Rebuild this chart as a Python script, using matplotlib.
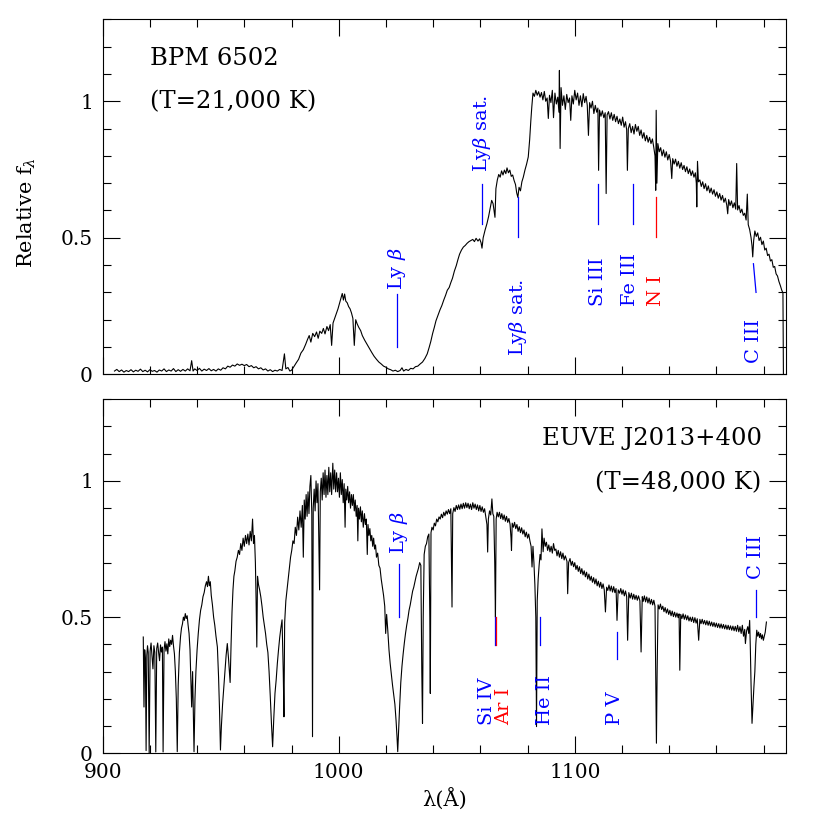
import numpy as np
import matplotlib
matplotlib.use('Agg')
import matplotlib.pyplot as plt
from matplotlib.ticker import MultipleLocator

# BPM 6502 (T=21,000 K): (wavelength in Angstrom, relative flux)
bpm_pts = [
    (905, 0.012), (906, 0.018), (907, 0.010), (908, 0.016), (909, 0.008), (910, 0.014),
    (911, 0.010), (912, 0.017), (913, 0.009), (914, 0.015), (915, 0.011), (916, 0.019),
    (917, 0.010), (918, 0.015), (919, 0.009), (920, 0.017), (921, 0.011), (922, 0.014),
    (923, 0.008), (924, 0.016), (925, 0.012), (926, 0.020), (927, 0.010), (928, 0.016),
    (929, 0.012), (930, 0.021), (931, 0.010), (932, 0.017), (933, 0.011), (934, 0.018),
    (935, 0.012), (936, 0.020), (937, 0.013), (937.7, 0.050), (938.3, 0.012), (939, 0.020),
    (940, 0.014), (941, 0.022), (942, 0.012), (943, 0.019), (944, 0.014), (945, 0.021),
    (946, 0.013), (947, 0.018), (948, 0.012), (949, 0.020), (950, 0.015), (951, 0.024),
    (952, 0.020), (953, 0.030), (954, 0.026), (955, 0.034), (956, 0.030), (957, 0.038),
    (958, 0.033), (959, 0.037), (960, 0.032), (961, 0.036), (962, 0.028), (963, 0.032),
    (964, 0.024), (965, 0.028), (966, 0.020), (967, 0.024), (968, 0.016), (969, 0.020),
    (970, 0.012), (971, 0.017), (972, 0.010), (973, 0.015), (974, 0.012), (975, 0.018),
    (976, 0.014), (977, 0.075), (977.6, 0.020), (978.5, 0.025), (979.3, 0.012), (980, 0.015),
    (981, 0.028), (982, 0.042), (983, 0.055), (984, 0.078), (985, 0.090), (986, 0.110),
    (986.8, 0.128), (987.5, 0.142), (988.2, 0.118), (989, 0.150), (989.8, 0.138), (990.6, 0.155),
    (991.3, 0.132), (992, 0.158), (992.8, 0.150), (993.5, 0.168), (994.2, 0.148), (995, 0.175),
    (995.7, 0.160), (996.4, 0.182), (997, 0.106), (997.6, 0.188), (998.3, 0.205), (999, 0.222),
    (999.7, 0.240), (1000.4, 0.262), (1001, 0.280), (1001.5, 0.296), (1002, 0.272), (1002.5, 0.294),
    (1003, 0.268), (1003.6, 0.262), (1004.2, 0.248), (1004.8, 0.240), (1005.4, 0.225), (1006, 0.205),
    (1006.6, 0.106), (1007.2, 0.200), (1007.8, 0.185), (1008.5, 0.172), (1009.3, 0.160), (1010, 0.142),
    (1011, 0.125), (1012, 0.110), (1013, 0.095), (1014, 0.080), (1015, 0.066), (1016, 0.055),
    (1017, 0.045), (1018, 0.038), (1019, 0.030), (1020, 0.026), (1021, 0.020), (1022, 0.017),
    (1023, 0.012), (1024, 0.015), (1025, 0.010), (1026, 0.014), (1026.8, 0.024), (1027.5, 0.012),
    (1028.5, 0.018), (1029.5, 0.014), (1030.5, 0.022), (1031.5, 0.020), (1032.5, 0.028), (1033.5, 0.030),
    (1034.5, 0.038), (1035.5, 0.045), (1036.5, 0.058), (1037.5, 0.075), (1038.3, 0.098), (1039, 0.120),
    (1039.8, 0.150), (1040.5, 0.172), (1041.2, 0.196), (1042, 0.215), (1042.9, 0.236), (1043.7, 0.252),
    (1044.5, 0.272), (1045.3, 0.290), (1046, 0.308), (1046.8, 0.318), (1047.5, 0.336), (1048.2, 0.352),
    (1049, 0.378), (1049.8, 0.398), (1050.5, 0.420), (1051.2, 0.440), (1052, 0.455), (1052.8, 0.466),
    (1053.6, 0.472), (1054.4, 0.480), (1055.2, 0.486), (1056, 0.490), (1056.8, 0.494), (1057.5, 0.486),
    (1058.2, 0.498), (1059, 0.488), (1059.7, 0.496), (1060.3, 0.482), (1060.7, 0.462), (1061.2, 0.500),
    (1062, 0.528), (1062.8, 0.552), (1063.5, 0.578), (1064.2, 0.610), (1064.8, 0.637), (1065.4, 0.625),
    (1066.2, 0.575), (1066.6, 0.680), (1067.2, 0.712), (1067.8, 0.732), (1068.4, 0.722), (1069, 0.745),
    (1069.6, 0.730), (1070.2, 0.748), (1070.8, 0.735), (1071.3, 0.756), (1071.9, 0.738), (1072.5, 0.748),
    (1073.1, 0.725), (1073.7, 0.730), (1074.3, 0.710), (1074.9, 0.695), (1075.4, 0.665), (1075.9, 0.648),
    (1076.4, 0.685), (1077, 0.672), (1077.6, 0.705), (1078.2, 0.722), (1078.9, 0.748), (1079.6, 0.770),
    (1080.3, 0.796), (1080.9, 0.860), (1081.4, 0.930), (1081.8, 0.979), (1082.3, 1.030), (1082.9, 1.018),
    (1083.5, 1.040), (1084.1, 1.022), (1084.7, 1.035), (1085.3, 1.015), (1085.9, 1.032), (1086.5, 1.005),
    (1087.1, 1.036), (1087.7, 1.000), (1088.3, 1.012), (1088.8, 0.937), (1089.3, 1.022), (1089.9, 0.995),
    (1090.5, 1.040), (1091, 0.940), (1091.6, 1.030), (1092.2, 0.990), (1092.8, 1.015), (1093.3, 0.960),
    (1093.5, 1.113), (1093.8, 0.827), (1094.2, 1.050), (1094.8, 0.985), (1095.4, 1.020), (1096, 0.970),
    (1096.6, 1.025), (1097.2, 0.995), (1097.8, 1.012), (1098.3, 0.930), (1098.8, 1.020), (1099.4, 0.990),
    (1100, 1.040), (1100.6, 1.005), (1101.2, 1.030), (1101.8, 0.985), (1102.4, 1.020), (1103, 0.980),
    (1103.6, 1.028), (1104.2, 0.995), (1104.8, 1.018), (1105.3, 0.985), (1105.8, 0.875), (1106.3, 0.995),
    (1106.9, 0.975), (1107.5, 1.000), (1108.1, 0.955), (1108.7, 0.985), (1109.3, 0.960), (1109.8, 0.975),
    (1110.1, 0.747), (1110.5, 0.968), (1111.1, 0.945), (1111.7, 0.965), (1112.3, 0.940), (1112.9, 0.958),
    (1113.3, 0.662), (1113.7, 0.950), (1114.3, 0.962), (1114.9, 0.935), (1115.5, 0.958), (1116.1, 0.930),
    (1116.7, 0.952), (1117.3, 0.925), (1117.9, 0.945), (1118.5, 0.918), (1119.1, 0.935), (1119.7, 0.912),
    (1120.3, 0.942), (1120.9, 0.905), (1121.5, 0.925), (1122, 0.895), (1122.3, 0.747), (1122.7, 0.900),
    (1123.3, 0.918), (1123.9, 0.885), (1124.5, 0.908), (1125.1, 0.880), (1125.7, 0.915), (1126.3, 0.890),
    (1126.9, 0.908), (1127.5, 0.875), (1128.1, 0.895), (1128.7, 0.865), (1129.3, 0.885), (1129.9, 0.855),
    (1130.5, 0.875), (1131.1, 0.850), (1131.7, 0.868), (1132.3, 0.845), (1132.9, 0.862), (1133.5, 0.830),
    (1134, 0.800), (1134.3, 0.674), (1134.5, 0.967), (1134.8, 0.700), (1135.2, 0.845), (1135.8, 0.815),
    (1136.4, 0.830), (1137, 0.800), (1137.6, 0.822), (1138.2, 0.795), (1138.8, 0.815), (1139.4, 0.785),
    (1140, 0.805), (1140.6, 0.780), (1141.1, 0.717), (1141.5, 0.790), (1142.1, 0.770), (1142.7, 0.788),
    (1143.3, 0.762), (1143.9, 0.780), (1144.5, 0.755), (1145.1, 0.775), (1145.7, 0.750), (1146.3, 0.765),
    (1146.9, 0.742), (1147.5, 0.760), (1148.1, 0.735), (1148.7, 0.752), (1149.3, 0.728), (1149.9, 0.745),
    (1150.5, 0.722), (1151.1, 0.738), (1151.5, 0.700), (1151.7, 0.613), (1152.0, 0.780), (1152.4, 0.705),
    (1153, 0.712), (1153.6, 0.688), (1154.2, 0.705), (1154.8, 0.680), (1155.4, 0.698), (1156, 0.672),
    (1156.6, 0.690), (1157.2, 0.665), (1157.8, 0.682), (1158.4, 0.660), (1159, 0.676), (1159.6, 0.652),
    (1160.2, 0.668), (1160.8, 0.645), (1161.4, 0.662), (1162, 0.638), (1162.6, 0.655), (1163.2, 0.630),
    (1163.8, 0.645), (1164.4, 0.620), (1164.8, 0.588), (1165.2, 0.640), (1165.8, 0.618), (1166.4, 0.635),
    (1167, 0.610), (1167.6, 0.628), (1168.2, 0.605), (1168.6, 0.772), (1169, 0.602), (1169.6, 0.618),
    (1170.2, 0.592), (1170.8, 0.605), (1171.4, 0.582), (1172, 0.590), (1172.6, 0.565), (1173.1, 0.660),
    (1173.5, 0.548), (1174.1, 0.530), (1174.7, 0.500), (1175.1, 0.470), (1175.4, 0.430), (1175.8, 0.490),
    (1176.3, 0.525), (1176.9, 0.505), (1177.5, 0.518), (1178.1, 0.490), (1178.7, 0.502), (1179.3, 0.475),
    (1179.9, 0.488), (1180.5, 0.455), (1181.1, 0.462), (1181.7, 0.435), (1182.3, 0.440), (1182.9, 0.415),
    (1183.5, 0.420), (1184.1, 0.392), (1184.7, 0.395), (1185.3, 0.368), (1185.9, 0.360), (1186.5, 0.340),
    (1187.1, 0.325), (1187.7, 0.308), (1188.2, 0.298), (1188.4, 0.0),
]

# EUVE J2013+400 (T=48,000 K)
euve_pts = [
    (917.2, 0.427), (917.5, 0.170), (917.8, 0.380), (918.1, 0.345), (918.4, 0.010), (918.7, 0.360),
    (919.0, 0.395), (919.3, 0.370), (919.7, 0.000), (920.1, 0.375), (920.5, 0.405), (920.9, 0.360),
    (921.3, 0.310), (921.7, 0.395), (922.1, 0.370), (922.5, 0.005), (922.9, 0.385), (923.3, 0.405),
    (923.7, 0.370), (924.1, 0.340), (924.5, 0.398), (924.9, 0.372), (925.3, 0.390), (925.6, 0.005),
    (926.0, 0.380), (926.4, 0.410), (926.8, 0.375), (927.2, 0.402), (927.6, 0.365), (928.0, 0.420),
    (928.4, 0.392), (928.8, 0.415), (929.2, 0.400), (929.6, 0.433), (930.0, 0.395), (930.4, 0.365),
    (930.8, 0.300), (931.2, 0.200), (931.6, 0.006), (932.0, 0.250), (932.5, 0.370), (933.0, 0.430),
    (933.4, 0.460), (933.8, 0.475), (934.2, 0.500), (934.6, 0.488), (935.0, 0.513), (935.4, 0.495),
    (935.8, 0.505), (936.2, 0.470), (936.6, 0.440), (937.0, 0.380), (937.4, 0.260), (937.7, 0.170),
    (938.1, 0.300), (938.4, 0.150), (938.7, 0.006), (939.1, 0.200), (939.5, 0.300), (940.0, 0.380),
    (940.5, 0.440), (941.0, 0.490), (941.5, 0.525), (942.0, 0.545), (942.5, 0.575), (943.0, 0.590),
    (943.5, 0.615), (944.0, 0.630), (944.4, 0.612), (944.8, 0.650), (945.2, 0.615), (945.6, 0.630),
    (946.0, 0.580), (946.5, 0.545), (947.0, 0.500), (947.5, 0.470), (948.0, 0.430), (948.6, 0.390),
    (949.1, 0.280), (949.5, 0.160), (949.9, 0.012), (950.3, 0.100), (950.8, 0.180), (951.3, 0.240),
    (951.8, 0.300), (952.3, 0.360), (952.8, 0.403), (953.3, 0.350), (953.7, 0.300), (954.0, 0.260),
    (954.4, 0.400), (954.8, 0.520), (955.2, 0.600), (955.6, 0.650), (956.0, 0.670), (956.5, 0.705),
    (957.0, 0.720), (957.5, 0.745), (958.0, 0.730), (958.5, 0.770), (959.0, 0.745), (959.5, 0.790),
    (960.0, 0.760), (960.5, 0.800), (961.0, 0.770), (961.5, 0.805), (962.0, 0.765), (962.5, 0.815),
    (963.0, 0.780), (963.5, 0.860), (963.9, 0.770), (964.3, 0.800), (964.7, 0.700), (965.0, 0.560),
    (965.3, 0.390), (965.6, 0.650), (966.0, 0.620), (966.5, 0.600), (967.0, 0.574), (967.5, 0.540),
    (968.0, 0.500), (968.5, 0.470), (969.0, 0.440), (969.5, 0.400), (970.0, 0.370), (970.5, 0.300),
    (971.0, 0.210), (971.5, 0.110), (972.0, 0.024), (972.5, 0.130), (973.0, 0.220), (973.5, 0.269),
    (974.0, 0.330), (974.5, 0.380), (975.0, 0.425), (975.5, 0.460), (976.0, 0.490), (976.5, 0.300),
    (976.8, 0.134), (977.1, 0.480), (977.6, 0.560), (978.1, 0.600), (978.6, 0.640), (979.1, 0.680),
    (979.6, 0.720), (980.1, 0.745), (980.6, 0.780), (981.1, 0.770), (981.6, 0.830), (982.1, 0.800),
    (982.6, 0.867), (983.1, 0.820), (983.6, 0.890), (984.1, 0.830), (984.6, 0.910), (985.0, 0.720),
    (985.4, 0.930), (985.8, 0.860), (986.2, 0.950), (986.6, 0.870), (987.0, 0.960), (987.4, 0.880),
    (987.8, 0.980), (988.2, 1.020), (988.6, 0.880), (988.9, 0.061), (989.2, 0.900), (989.6, 0.970),
    (990.0, 0.890), (990.4, 1.000), (990.8, 0.920), (991.2, 0.990), (991.6, 0.760), (991.9, 0.600),
    (992.2, 0.960), (992.6, 1.010), (993.0, 0.930), (993.4, 1.030), (993.8, 0.950), (994.2, 1.040),
    (994.6, 0.940), (995.0, 1.020), (995.4, 0.950), (995.8, 1.050), (996.2, 0.960), (996.6, 1.030),
    (997.0, 0.950), (997.5, 1.065), (997.9, 0.970), (998.3, 1.040), (998.7, 0.960), (999.1, 1.030),
    (999.5, 0.960), (999.9, 1.010), (1000.3, 0.940), (1000.7, 1.030), (1001.1, 0.950), (1001.5, 1.005),
    (1001.9, 0.920), (1002.3, 0.990), (1002.7, 0.830), (1003.0, 0.970), (1003.4, 0.930), (1003.8, 0.980),
    (1004.2, 0.920), (1004.6, 0.960), (1005.0, 0.900), (1005.4, 0.950), (1005.8, 0.910), (1006.2, 0.950),
    (1006.6, 0.890), (1007.0, 0.930), (1007.4, 0.870), (1007.8, 0.910), (1008.1, 0.780), (1008.4, 0.900),
    (1008.8, 0.860), (1009.2, 0.905), (1009.6, 0.850), (1010.0, 0.890), (1010.4, 0.830), (1010.9, 0.880),
    (1011.3, 0.840), (1011.7, 0.860), (1012.1, 0.730), (1012.4, 0.840), (1012.8, 0.800), (1013.2, 0.825),
    (1013.6, 0.780), (1014.0, 0.800), (1014.4, 0.760), (1014.8, 0.790), (1015.2, 0.750), (1015.6, 0.765),
    (1016.0, 0.720), (1016.5, 0.735), (1017.0, 0.690), (1017.5, 0.680), (1018.0, 0.640), (1018.5, 0.610),
    (1019.0, 0.580), (1019.5, 0.540), (1019.9, 0.440), (1020.3, 0.510), (1020.8, 0.450), (1021.3, 0.380),
    (1021.8, 0.330), (1022.3, 0.290), (1022.8, 0.250), (1023.3, 0.215), (1023.8, 0.180), (1024.3, 0.120),
    (1024.7, 0.060), (1025.0, 0.006), (1025.4, 0.090), (1025.8, 0.170), (1026.3, 0.260), (1026.8, 0.320),
    (1027.3, 0.365), (1027.8, 0.405), (1028.3, 0.440), (1028.8, 0.470), (1029.3, 0.495), (1029.8, 0.525),
    (1030.3, 0.545), (1030.8, 0.570), (1031.3, 0.595), (1031.8, 0.610), (1032.3, 0.630), (1032.8, 0.650),
    (1033.3, 0.665), (1033.8, 0.680), (1034.3, 0.700), (1034.8, 0.690), (1035.2, 0.300), (1035.5, 0.110),
    (1035.8, 0.500), (1036.2, 0.730), (1036.7, 0.760), (1037.2, 0.770), (1037.7, 0.795), (1038.2, 0.805),
    (1038.6, 0.500), (1038.8, 0.220), (1039.1, 0.810), (1039.5, 0.830), (1040.0, 0.820), (1040.5, 0.845),
    (1041.0, 0.835), (1041.5, 0.860), (1042.0, 0.850), (1042.5, 0.868), (1043.0, 0.860), (1043.5, 0.878),
    (1044.0, 0.865), (1044.5, 0.885), (1045.0, 0.872), (1045.5, 0.890), (1046.0, 0.878), (1046.5, 0.895),
    (1047.0, 0.880), (1047.5, 0.898), (1047.8, 0.700), (1048.0, 0.537), (1048.3, 0.880), (1048.8, 0.902),
    (1049.3, 0.888), (1049.8, 0.910), (1050.3, 0.895), (1050.8, 0.912), (1051.3, 0.896), (1051.8, 0.915),
    (1052.3, 0.898), (1052.8, 0.918), (1053.3, 0.900), (1053.8, 0.920), (1054.3, 0.902), (1054.8, 0.918),
    (1055.3, 0.898), (1055.8, 0.915), (1056.3, 0.895), (1056.8, 0.920), (1057.3, 0.900), (1057.8, 0.915),
    (1058.3, 0.895), (1058.8, 0.912), (1059.3, 0.890), (1059.8, 0.910), (1060.3, 0.888), (1060.8, 0.905),
    (1061.3, 0.885), (1061.8, 0.898), (1062.3, 0.870), (1062.8, 0.840), (1063.1, 0.739), (1063.4, 0.860),
    (1063.9, 0.890), (1064.4, 0.875), (1064.9, 0.934), (1065.3, 0.880), (1065.7, 0.870), (1066.1, 0.700),
    (1066.4, 0.500), (1066.7, 0.860), (1067.1, 0.885), (1067.6, 0.868), (1068.1, 0.885), (1068.6, 0.862),
    (1069.1, 0.880), (1069.6, 0.858), (1070.1, 0.875), (1070.6, 0.852), (1071.1, 0.870), (1071.6, 0.848),
    (1072.1, 0.862), (1072.6, 0.840), (1073.0, 0.790), (1073.2, 0.745), (1073.5, 0.845), (1074.0, 0.830),
    (1074.5, 0.848), (1075.0, 0.825), (1075.5, 0.840), (1076.0, 0.815), (1076.5, 0.832), (1077.0, 0.810),
    (1077.5, 0.828), (1078.0, 0.805), (1078.5, 0.820), (1079.0, 0.795), (1079.5, 0.812), (1080.0, 0.790),
    (1080.5, 0.805), (1081.0, 0.780), (1081.5, 0.760), (1081.9, 0.684), (1082.3, 0.760), (1082.7, 0.700),
    (1083.1, 0.620), (1083.5, 0.500), (1083.8, 0.098), (1084.1, 0.560), (1084.5, 0.640), (1084.9, 0.690),
    (1085.3, 0.730), (1085.7, 0.710), (1086.1, 0.824), (1086.6, 0.740), (1087.0, 0.790), (1087.5, 0.760),
    (1088.0, 0.775), (1088.5, 0.745), (1089.0, 0.765), (1089.5, 0.740), (1090.0, 0.760), (1090.5, 0.735),
    (1091.0, 0.770), (1091.5, 0.745), (1092.0, 0.750), (1092.5, 0.725), (1093.0, 0.745), (1093.5, 0.720),
    (1094.0, 0.740), (1094.5, 0.715), (1095.0, 0.735), (1095.5, 0.710), (1096.0, 0.725), (1096.7, 0.705),
    (1097.0, 0.586), (1097.4, 0.700), (1098.0, 0.715), (1098.5, 0.690), (1099.0, 0.705), (1099.5, 0.685),
    (1100.0, 0.700), (1100.5, 0.675), (1101.0, 0.690), (1101.5, 0.668), (1102.0, 0.685), (1102.5, 0.660),
    (1103.0, 0.678), (1103.5, 0.655), (1104.0, 0.670), (1104.5, 0.648), (1105.0, 0.665), (1105.5, 0.640),
    (1106.0, 0.658), (1106.5, 0.635), (1107.0, 0.650), (1107.5, 0.628), (1108.0, 0.645), (1108.5, 0.622),
    (1109.0, 0.640), (1109.5, 0.615), (1110.0, 0.632), (1110.5, 0.610), (1111.0, 0.628), (1111.5, 0.605),
    (1112.0, 0.622), (1112.5, 0.600), (1113.0, 0.519), (1113.5, 0.610), (1114.0, 0.598), (1114.5, 0.618),
    (1115.0, 0.596), (1115.5, 0.614), (1116.0, 0.592), (1116.5, 0.612), (1117.0, 0.590), (1117.5, 0.605),
    (1117.9, 0.488), (1118.4, 0.600), (1119.0, 0.588), (1119.5, 0.605), (1120.0, 0.584), (1120.5, 0.600),
    (1121.0, 0.578), (1121.5, 0.596), (1122.0, 0.575), (1122.4, 0.415), (1122.9, 0.590), (1123.5, 0.570),
    (1124.0, 0.588), (1124.5, 0.566), (1125.0, 0.584), (1125.5, 0.565), (1126.0, 0.580), (1126.5, 0.562),
    (1127.0, 0.578), (1127.6, 0.560), (1128.1, 0.372), (1128.6, 0.575), (1129.0, 0.558), (1129.5, 0.578),
    (1130.0, 0.556), (1130.5, 0.574), (1131.0, 0.552), (1131.5, 0.570), (1132.0, 0.548), (1132.5, 0.565),
    (1133.0, 0.545), (1133.5, 0.562), (1134.0, 0.540), (1134.3, 0.300), (1134.6, 0.037), (1134.9, 0.300),
    (1135.3, 0.545), (1135.8, 0.530), (1136.3, 0.548), (1136.8, 0.528), (1137.3, 0.540), (1137.8, 0.520),
    (1138.3, 0.535), (1138.8, 0.515), (1139.3, 0.530), (1139.8, 0.510), (1140.3, 0.525), (1140.8, 0.505),
    (1141.3, 0.522), (1141.8, 0.502), (1142.3, 0.518), (1142.8, 0.500), (1143.3, 0.515), (1143.8, 0.498),
    (1144.2, 0.512), (1144.5, 0.305), (1144.9, 0.510), (1145.4, 0.495), (1145.9, 0.512), (1146.4, 0.492),
    (1146.9, 0.508), (1147.4, 0.490), (1147.9, 0.505), (1148.4, 0.486), (1148.9, 0.500), (1149.4, 0.484),
    (1149.9, 0.500), (1150.4, 0.480), (1150.9, 0.498), (1151.4, 0.478), (1151.9, 0.494), (1152.5, 0.415),
    (1153.0, 0.492), (1153.5, 0.476), (1154.0, 0.492), (1154.5, 0.475), (1155.0, 0.488), (1155.5, 0.472),
    (1156.0, 0.487), (1156.5, 0.470), (1157.0, 0.485), (1157.5, 0.468), (1158.0, 0.482), (1158.5, 0.466),
    (1159.0, 0.480), (1159.5, 0.464), (1160.0, 0.478), (1160.5, 0.462), (1161.0, 0.476), (1161.5, 0.460),
    (1162.0, 0.475), (1162.5, 0.459), (1163.0, 0.473), (1163.5, 0.457), (1164.0, 0.471), (1164.5, 0.455),
    (1165.0, 0.470), (1165.5, 0.454), (1166.0, 0.468), (1166.5, 0.452), (1167.0, 0.467), (1167.5, 0.450),
    (1168.0, 0.466), (1168.5, 0.448), (1169.0, 0.470), (1169.5, 0.446), (1170.0, 0.465), (1170.5, 0.440),
    (1171.0, 0.470), (1171.5, 0.430), (1172.0, 0.455), (1172.3, 0.403), (1172.8, 0.450), (1173.3, 0.465),
    (1173.7, 0.440), (1174.1, 0.488), (1174.4, 0.380), (1174.7, 0.250), (1175.1, 0.110), (1175.5, 0.180),
    (1175.9, 0.244), (1176.3, 0.300), (1176.7, 0.400), (1177.1, 0.452), (1177.5, 0.430), (1177.9, 0.445),
    (1178.3, 0.425), (1178.7, 0.440), (1179.1, 0.420), (1179.5, 0.435), (1179.9, 0.415), (1180.3, 0.430),
    (1180.7, 0.445), (1181.2, 0.482),
]

# line identifications (top panel)
top_ids = ["Ly $\\beta$", "Ly$\\beta$ sat.", "Ly$\\beta$ sat.", "Si III", "Fe III", "N I", "C III"]
top_wl_hi = [1024.8, 1060.9, 1075.8, 1109.9, 1124.8, 1134.3, 1175.7]
top_wl_lo = [1024.8, 1060.9, 1075.8, 1109.9, 1124.8, 1134.3, 1176.8]
top_y0 = [0.10, 0.552, 0.503, 0.552, 0.552, 0.503, 0.30]
top_y1 = [0.295, 0.698, 0.650, 0.698, 0.698, 0.650, 0.405]
top_lab_wl = [1024.8, 1060.7, 1075.8, 1110.0, 1123.5, 1134.3, 1175.9]
top_lab_y = [0.31, 0.74, 0.35, 0.43, 0.445, 0.363, 0.204]
top_lab_above = [True, True, False, False, False, False, False]
top_col = ["blue", "blue", "blue", "blue", "blue", "red", "blue"]

# line identifications (bottom panel)
bot_ids = ["Ly $\\beta$", "Si IV", "Ar I", "He II", "P V", "C III"]
bot_wl = [1025.7, 1066.2, 1066.5, 1085.2, 1117.9, 1176.9]
bot_y0 = [0.50, 0.397, 0.397, 0.397, 0.348, 0.50]
bot_y1 = [0.696, 0.50, 0.50, 0.50, 0.446, 0.598]
bot_lab_wl = [1025.4, 1062.9, 1070.2, 1087.6, 1117.2, 1176.9]
bot_lab_y = [0.733, 0.104, 0.104, 0.104, 0.104, 0.641]
bot_col = ["blue", "blue", "red", "blue", "blue", "blue"]

bpm_wl = [p[0] for p in bpm_pts]
bpm_flux = [p[1] for p in bpm_pts]
euve_wl = [p[0] for p in euve_pts]
euve_flux = [p[1] for p in euve_pts]

plt.rcParams['font.family'] = ['DejaVu Serif']
plt.rcParams['mathtext.fontset'] = 'dejavuserif'

fig = plt.figure(figsize=(8.3, 8.3), dpi=100)
ax1 = fig.add_axes([0.1237, 0.549, 0.8233, 0.4277])
ax2 = fig.add_axes([0.1237, 0.0924, 0.8233, 0.4266])

for ax in (ax1, ax2):
    ax.set_xlim(900, 1189.5)
    ax.set_ylim(0, 1.3)
    ax.xaxis.set_major_locator(MultipleLocator(100))
    ax.xaxis.set_minor_locator(MultipleLocator(20))
    ax.yaxis.set_minor_locator(MultipleLocator(0.1))
    ax.tick_params(which='both', direction='in', top=True, right=True, width=0.8,
                   labelsize=14.5, colors='black')
    ax.tick_params(which='major', length=12.5, pad=7)
    ax.tick_params(which='minor', length=6)
    ax.set_yticks([0, 0.5, 1])
    ax.set_yticklabels(['0', '0.5', '1'])
    for s in ax.spines.values():
        s.set_linewidth(0.8)

ax1.tick_params(labelbottom=False)

ax1.plot(bpm_wl, bpm_flux, color='black', lw=0.8)
ax2.plot(euve_wl, euve_flux, color='black', lw=0.8)

for i in range(len(top_ids)):
    ax1.plot([top_wl_hi[i], top_wl_lo[i]], [top_y1[i], top_y0[i]], color=top_col[i], lw=0.9)
    ax1.text(top_lab_wl[i], top_lab_y[i], top_ids[i], color=top_col[i], rotation=90,
             ha='center', va='bottom' if top_lab_above[i] else 'top', fontsize=14)

for i in range(len(bot_ids)):
    ax2.plot([bot_wl[i], bot_wl[i]], [bot_y0[i], bot_y1[i]], color=bot_col[i], lw=0.9)
    ax2.text(bot_lab_wl[i], bot_lab_y[i], bot_ids[i], color=bot_col[i], rotation=90,
             ha='center', va='bottom', fontsize=14)

ax1.text(920.2, 1.132, "BPM 6502", fontsize=17.5, ha='left', va='baseline')
ax1.text(920.2, 0.973, "(T=21,000 K)", fontsize=17.5, ha='left', va='baseline')
ax2.text(1179.2, 1.133, "EUVE J2013+400", fontsize=17.5, ha='right', va='baseline')
ax2.text(1179.2, 0.971, "(T=48,000 K)", fontsize=17.5, ha='right', va='baseline')

ax1.set_ylabel("Relative f$_\\lambda$", fontsize=15)
ax1.yaxis.set_label_coords(-0.095, 0.457)
ax2.set_xlabel("λ(Å)", fontsize=15, labelpad=4)

fig.savefig("out.png", dpi=100)
